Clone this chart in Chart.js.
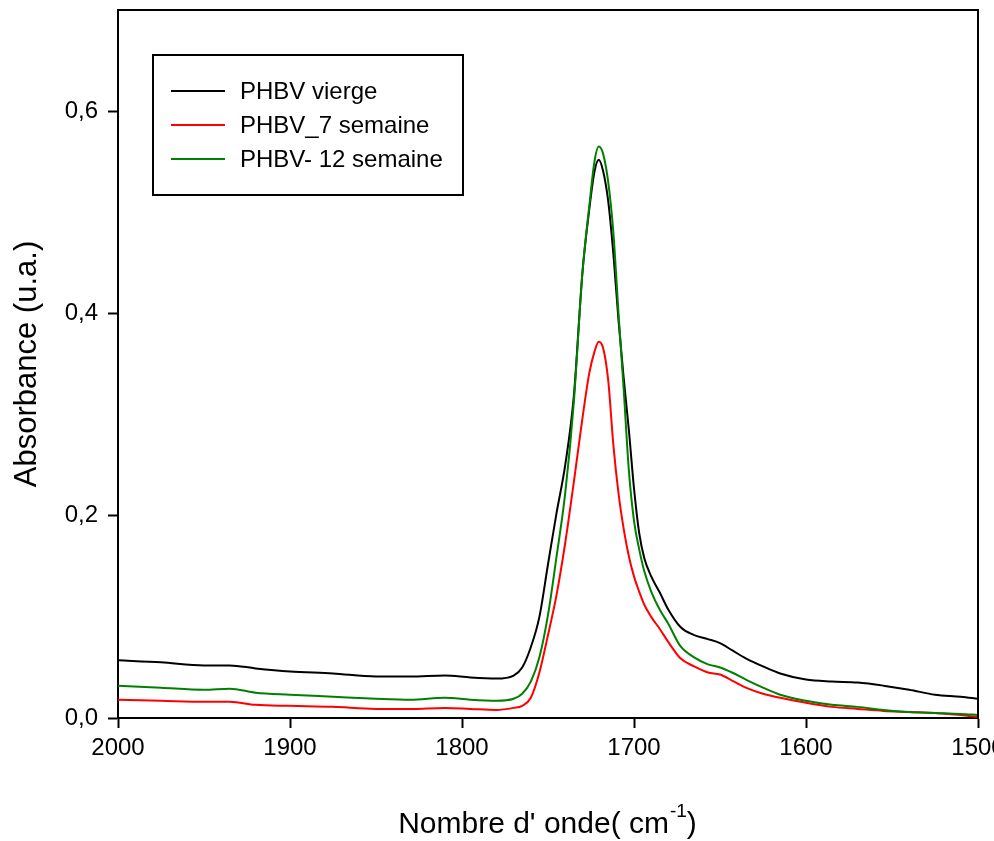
<html><head>
<meta charset="UTF-8">
<title>PHBV - Absorbance IR</title>
<style>
  html, body { margin: 0; padding: 0; background: #fff; overflow: hidden; }
  #wrap { position: absolute; left: 0; top: 0; width: 1000px; height: 841px; }
</style>
<script src="https://cdn.jsdelivr.net/npm/chart.js"></script>
</head>
<body>
<div id="wrap"><canvas id="irChart" width="1000" height="841"></canvas></div>

<script>
// wavenumber grid (cm-1)
const wavenumbers = [2000, 1975, 1950, 1935, 1920, 1900, 1875, 1850, 1830, 1810, 1795, 1780, 1770, 1765, 1760, 1755, 1750, 1745, 1740, 1735, 1730, 1726, 1723, 1720.5, 1718, 1715, 1712, 1709, 1706, 1703, 1700, 1697, 1694, 1690, 1685, 1680, 1673, 1665, 1657, 1650, 1643, 1635, 1625, 1615, 1600, 1585, 1570, 1555, 1540, 1525, 1510, 1500];

const absVierge = [0.057, 0.055, 0.052, 0.052, 0.049, 0.046, 0.044, 0.041, 0.041, 0.042, 0.040, 0.039, 0.042, 0.050, 0.070, 0.100, 0.152, 0.203, 0.250, 0.318, 0.440, 0.503, 0.540, 0.552, 0.541, 0.511, 0.459, 0.393, 0.336, 0.285, 0.227, 0.183, 0.158, 0.140, 0.124, 0.107, 0.090, 0.082, 0.078, 0.074, 0.067, 0.059, 0.051, 0.044, 0.038, 0.036, 0.035, 0.032, 0.028, 0.023, 0.021, 0.019];

const abs7sem = [0.018, 0.017, 0.016, 0.016, 0.013, 0.012, 0.011, 0.009, 0.009, 0.010, 0.009, 0.008, 0.010, 0.012, 0.020, 0.045, 0.082, 0.122, 0.173, 0.233, 0.296, 0.341, 0.362, 0.372, 0.366, 0.334, 0.270, 0.222, 0.187, 0.160, 0.140, 0.125, 0.112, 0.100, 0.088, 0.075, 0.059, 0.051, 0.045, 0.043, 0.037, 0.030, 0.024, 0.020, 0.015, 0.011, 0.009, 0.007, 0.006, 0.005, 0.003, 0.001];

const abs12sem = [0.032, 0.030, 0.028, 0.029, 0.025, 0.023, 0.021, 0.019, 0.018, 0.020, 0.018, 0.017, 0.019, 0.024, 0.036, 0.060, 0.102, 0.160, 0.222, 0.312, 0.440, 0.506, 0.550, 0.565, 0.558, 0.530, 0.480, 0.400, 0.325, 0.245, 0.195, 0.167, 0.145, 0.125, 0.107, 0.093, 0.071, 0.060, 0.053, 0.050, 0.045, 0.038, 0.030, 0.023, 0.017, 0.013, 0.011, 0.008, 0.006, 0.005, 0.004, 0.003];

const seriesLabels = ['PHBV vierge', 'PHBV_7 semaine', 'PHBV- 12 semaine'];
const xTicks = [2000, 1900, 1800, 1700, 1600, 1500];
const yTicks = [0, 0.2, 0.4, 0.6];

const FONT = '"Liberation Sans", Arial, sans-serif';

function toPoints(ys) {
  return wavenumbers.map((w, i) => ({x: w, y: ys[i]}));
}

function makeSet(label, ys, color, order) {
  return {
    label: label,
    data: toPoints(ys),
    borderColor: color,
    backgroundColor: color,
    borderWidth: 2,
    pointRadius: 0,
    cubicInterpolationMode: 'monotone',
    fill: false,
    order: order
  };
}

// frame, legend box and axis titles
const decorations = {
  id: 'decorations',
  afterDraw(chart) {
    const ctx = chart.ctx;
    const a = chart.chartArea;
    ctx.save();
    ctx.strokeStyle = '#000';
    ctx.lineWidth = 2;
    ctx.beginPath();
    ctx.moveTo(a.left, a.top);
    ctx.lineTo(a.right, a.top);
    ctx.lineTo(a.right, a.bottom);
    ctx.stroke();

    // legend
    ctx.lineWidth = 2;
    ctx.strokeRect(153, 55, 310, 140);
    const rows = [91, 125, 159];
    chart.data.datasets.forEach((ds, i) => {
      ctx.strokeStyle = ds.borderColor;
      ctx.lineWidth = 2;
      ctx.beginPath();
      ctx.moveTo(171, rows[i]);
      ctx.lineTo(225, rows[i]);
      ctx.stroke();
      ctx.fillStyle = '#000';
      ctx.font = '24px ' + FONT;
      ctx.textBaseline = 'middle';
      ctx.textAlign = 'left';
      ctx.fillText(ds.label, 240, rows[i] + 1);
    });

    // x title with superscript
    ctx.fillStyle = '#000';
    ctx.textBaseline = 'alphabetic';
    ctx.textAlign = 'left';
    const main = "Nombre d' onde( cm";
    ctx.font = '30px ' + FONT;
    const w1 = ctx.measureText(main).width;
    ctx.font = '19px ' + FONT;
    const w2 = ctx.measureText('-1').width;
    ctx.font = '30px ' + FONT;
    const w3 = ctx.measureText(')').width;
    const cx = (a.left + a.right) / 2 - 1;
    const x0 = cx - (w1 + w2 + w3) / 2;
    const base = 833;
    ctx.fillText(main, x0, base);
    ctx.font = '19px ' + FONT;
    ctx.fillText('-1', x0 + w1 + 1, base - 16);
    ctx.font = '30px ' + FONT;
    ctx.fillText(')', x0 + w1 + w2 + 1, base);

    // y title
    ctx.translate(36, (a.top + a.bottom) / 2);
    ctx.rotate(-Math.PI / 2);
    ctx.textAlign = 'center';
    ctx.textBaseline = 'alphabetic';
    ctx.font = '31px ' + FONT;
    ctx.fillText('Absorbance (u.a.)', 0, 0);
    ctx.restore();
  }
};

const ctx = document.getElementById('irChart').getContext('2d');
const chart = new Chart(ctx, {
  type: 'line',
  data: {
    datasets: [
      makeSet(seriesLabels[0], absVierge, '#000000', 3),
      makeSet(seriesLabels[1], abs7sem, '#ff0000', 2),
      makeSet(seriesLabels[2], abs12sem, '#008000', 1)
    ]
  },
  options: {
    responsive: false,
    animation: false,
    devicePixelRatio: 1,
    layout: { padding: { top: 10, right: 22, left: 0, bottom: 0 } },
    plugins: {
      legend: { display: false },
      tooltip: { enabled: false }
    },
    scales: {
      x: {
        type: 'linear',
        reverse: true,
        min: 1500,
        max: 2000,
        afterBuildTicks: s => { s.ticks = xTicks.map(v => ({value: v})); },
        afterFit: s => { s.height = 123; s.paddingLeft = 0; s.paddingRight = 0; },
        ticks: {
          color: '#000',
          font: { family: FONT, size: 24 },
          padding: 6,
          maxRotation: 0,
          callback: v => String(v)
        },
        grid: { drawOnChartArea: false, drawTicks: true, tickLength: 10, tickColor: '#000', tickWidth: 2 },
        border: { display: true, color: '#000', width: 2 }
      },
      y: {
        min: 0,
        max: 0.7,
        afterBuildTicks: s => { s.ticks = yTicks.map(v => ({value: v})); },
        afterFit: s => { s.width = 118; s.paddingTop = 0; s.paddingBottom = 0; },
        ticks: {
          color: '#000',
          font: { family: FONT, size: 24 },
          padding: 10,
          callback: v => v.toFixed(1).replace('.', ',')
        },
        grid: { drawOnChartArea: false, drawTicks: true, tickLength: 10, tickColor: '#000', tickWidth: 2 },
        border: { display: true, color: '#000', width: 2 }
      }
    }
  },
  plugins: [decorations]
});
</script>
</body></html>
